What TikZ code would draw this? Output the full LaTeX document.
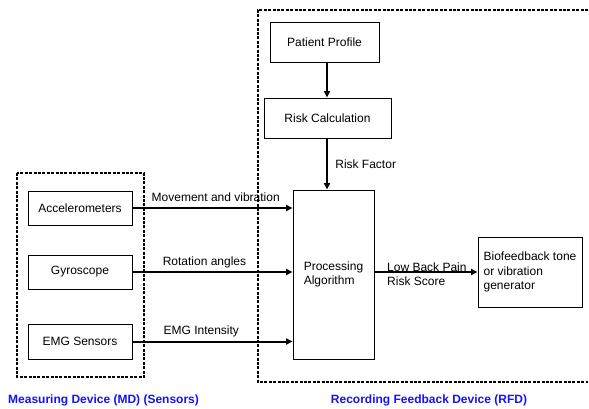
\documentclass[tikz,border=0pt]{standalone}
\usepackage{fontspec}
\setmainfont{Liberation Sans}
\usetikzlibrary{arrows.meta}
\definecolor{lblblue}{RGB}{20,20,235}
\tikzset{
  every node/.style={font=\fontsize{12}{14.5}\selectfont},
  box/.style={draw, line width=0.9pt, minimum width=#1, inner sep=0pt, align=left},
  conn/.style={line width=2pt, -{Triangle[length=6.5pt,width=6pt]}},
  dashbox/.style={line width=1.6pt, dash pattern=on 3pt off 1.4pt},
  grouplbl/.style={text=lblblue, font=\bfseries\fontsize{12}{14}\selectfont, inner sep=0pt},
  lbl/.style={inner sep=0pt, align=left}
}
\begin{document}
\begin{tikzpicture}[x=1pt,y=-1pt]
\useasboundingbox (0,0) rectangle (589,408);
% dashed groups
\draw[dashbox] (17,173) rectangle (144,377);
\draw[dashbox] (588,10) -- (258,10) -- (258,382) -- (588,382);
% nodes
\node[box=104pt, minimum height=34pt] (acc) at (80,208) {Accelerometers};
\node[box=104pt, minimum height=34pt] (gyr) at (80,272) {Gyroscope};
\node[box=104pt, minimum height=35pt] (emg) at (80,341.5) {EMG Sensors};
\node[box=109pt, minimum height=40pt] (pat) at (324.5,42) {Patient Profile};
\node[box=127pt, minimum height=40pt] (risk) at (327.5,118) {Risk Calculation};
\node[box=81pt, minimum height=169pt] (proc) at (333.5,274.5) {Processing\\Algorithm};
\node[box=104pt, minimum height=70pt] (bio) at (530,272) {Biofeedback tone\\or vibration\\generator};
% connectors
\draw[conn] (pat.south -| 327,0) -- (risk.north -| 327,0);
\draw[conn] (risk.south -| 327,0) -- node[pos=0.5, right, xshift=4pt] (rf) {Risk Factor} (proc.north -| 327,0);
\draw[conn] (acc.east) -- node[pos=0.52, anchor=base, yshift=7pt] (l1) {Movement and vibration} (acc.east -| proc.west);
\draw[conn] (gyr.east) -- node[pos=0.45, anchor=base, yshift=7pt] (l2) {Rotation angles} (gyr.east -| proc.west);
\draw[conn] (emg.east) -- node[pos=0.43, anchor=base, yshift=7pt] (l3) {EMG Intensity} (emg.east -| proc.west);
\draw[conn] (proc.east |- bio.west) -- (bio.west);
\node[lbl, anchor=west] (lbp) at (387,274) {Low Back Pain\\Risk Score};
% group labels
\node[grouplbl, anchor=west] (md) at (8,400) {Measuring Device (MD) (Sensors)};
\node[grouplbl] (rfd) at (429,400) {Recording Feedback Device (RFD)};
\end{tikzpicture}
\end{document}
